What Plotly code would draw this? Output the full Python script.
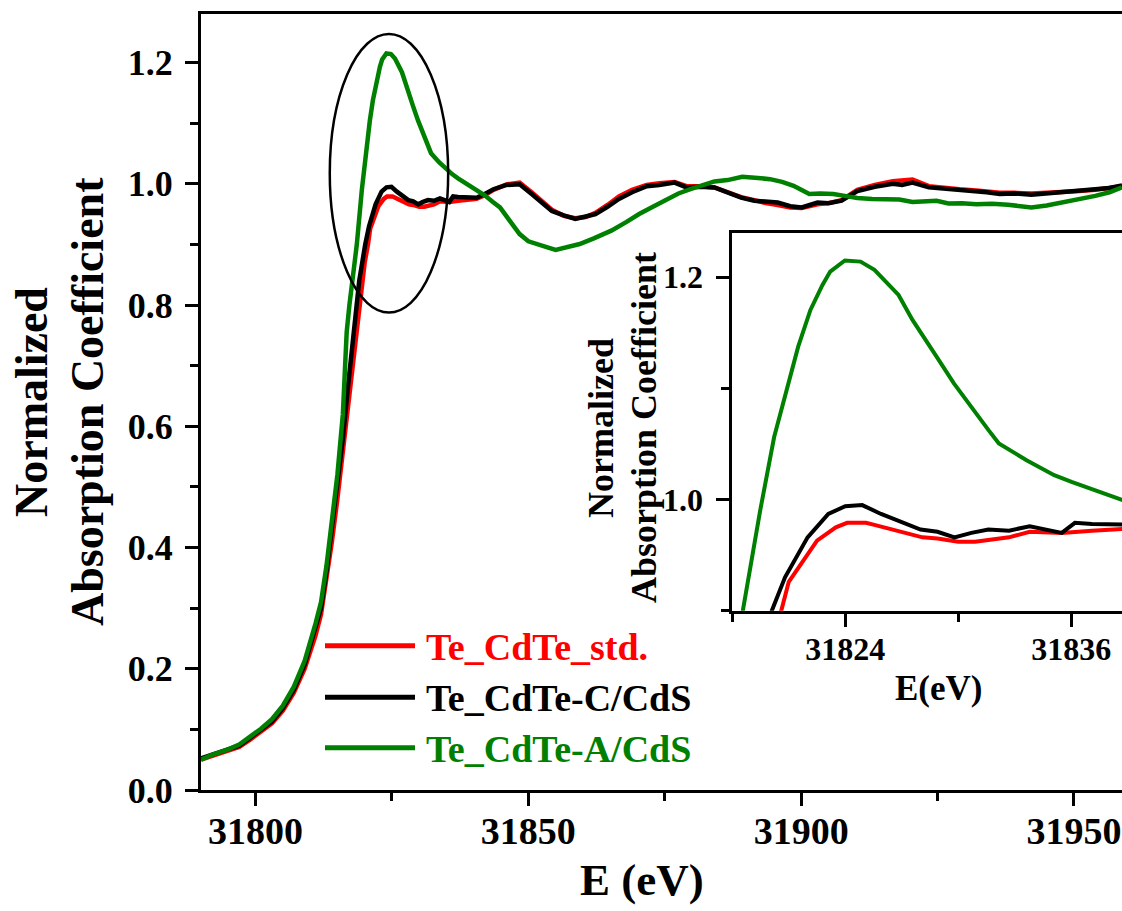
import plotly.graph_objects as go

# ---------------- data ----------------
energy_std = [31790, 31792, 31795, 31797, 31799, 31801, 31803, 31805, 31807, 31809, 31811, 31812,
              31813, 31814, 31815, 31816, 31817, 31818, 31819, 31820.0, 31820.6, 31821.0, 31822.5,
              31823.5, 31824.1, 31825.1, 31825.6, 31826.8, 31828.1, 31828.9, 31830.0, 31830.9,
              31832.0, 31832.7, 31833.8, 31835.5, 31837.1, 31838.7, 31840.5, 31842.0, 31843.6,
              31846.0, 31848.4, 31850.6, 31852.5, 31854.3, 31856.5, 31858.6, 31860.5, 31862.3,
              31864.5, 31866.6, 31869.0, 31871.7, 31874.0, 31876.8, 31879.0, 31881.5, 31884.1,
              31887.0, 31889.0, 31891.4, 31893.5, 31895.7, 31898.0, 31900.1, 31903.0, 31905.0,
              31907.4, 31910.3, 31913.5, 31916.8, 31918.5, 31920.4, 31923.4, 31926.0, 31929.0,
              31932.1, 31934.0, 31936.4, 31939.0, 31942.2, 31945.0, 31948.1, 31951.0, 31953.9,
              31956.5, 31958.8]
mu_std = [0.050, 0.056, 0.064, 0.071, 0.083, 0.096, 0.110, 0.131, 0.160, 0.200, 0.255, 0.290,
          0.345, 0.410, 0.480, 0.560, 0.640, 0.720, 0.795, 0.870, 0.900, 0.926, 0.963,
          0.975, 0.979, 0.979, 0.977, 0.972, 0.966, 0.965, 0.962, 0.962,
          0.964, 0.966, 0.971, 0.970, 0.972, 0.973, 0.975, 0.981, 0.990,
          0.999, 1.002, 0.986, 0.970, 0.957, 0.947, 0.943, 0.945, 0.952,
          0.965, 0.979, 0.990, 0.998, 1.001, 1.003, 0.996, 0.996, 0.994,
          0.985, 0.978, 0.973, 0.968, 0.965, 0.961, 0.960, 0.966, 0.968,
          0.973, 0.990, 0.998, 1.004, 1.005, 1.007, 0.996, 0.993, 0.991,
          0.989, 0.987, 0.985, 0.985, 0.984, 0.985, 0.986, 0.988, 0.990,
          0.993, 0.996]

energy_c = [31790, 31792, 31795, 31797, 31799, 31801, 31803, 31805, 31807, 31809, 31811, 31812,
            31813, 31814, 31815, 31816, 31817, 31818, 31819, 31820.1, 31820.8, 31822.0, 31823.1,
            31824.0, 31824.9, 31825.9, 31827.0, 31828.0, 31828.9, 31829.8, 31830.7, 31831.6,
            31832.7, 31833.8, 31835.5, 31836.2, 31837.1, 31838.7, 31840.5, 31842.0, 31843.6,
            31846.0, 31848.4, 31850.6, 31852.5, 31854.3, 31856.5, 31858.6, 31860.5, 31862.3,
            31864.5, 31866.6, 31869.0, 31871.7, 31874.0, 31876.8, 31879.0, 31881.5, 31884.1,
            31887.0, 31889.0, 31891.4, 31893.5, 31895.7, 31898.0, 31900.1, 31903.0, 31905.0,
            31907.4, 31910.3, 31913.5, 31916.8, 31918.5, 31920.4, 31923.4, 31926.0, 31929.0,
            31932.1, 31934.0, 31936.4, 31939.0, 31942.2, 31945.0, 31948.1, 31951.0, 31953.9,
            31956.5, 31958.8]
mu_c = [0.052, 0.058, 0.066, 0.073, 0.086, 0.099, 0.113, 0.135, 0.165, 0.207, 0.265, 0.300,
        0.360, 0.430, 0.500, 0.580, 0.670, 0.760, 0.840, 0.900, 0.930, 0.966, 0.987,
        0.994, 0.995, 0.987, 0.980, 0.973, 0.971, 0.966, 0.970, 0.973,
        0.972, 0.976, 0.970, 0.979, 0.978, 0.978, 0.977, 0.983, 0.991,
        0.998, 0.999, 0.983, 0.968, 0.955, 0.948, 0.942, 0.946, 0.950,
        0.962, 0.975, 0.986, 0.996, 0.998, 1.002, 0.994, 0.995, 0.994,
        0.983, 0.977, 0.972, 0.970, 0.969, 0.963, 0.961, 0.969, 0.968,
        0.972, 0.988, 0.995, 1.000, 0.998, 1.002, 0.994, 0.992, 0.991,
        0.988, 0.986, 0.983, 0.984, 0.982, 0.984, 0.985, 0.988, 0.991,
        0.993, 0.997]

energy_a = [31790, 31792, 31795, 31797, 31799, 31801, 31803, 31805, 31807, 31809, 31811, 31812,
            31813, 31814, 31815, 31816, 31816.7, 31817.2, 31818.56, 31819.48, 31820.22, 31820.95,
            31821.5, 31822.15, 31822.79, 31823.2, 31823.98, 31824.81, 31825.55, 31826.83,
            31827.57, 31828.85, 31829.77, 31831.61, 31832.16, 31833.63, 31835.1, 31836.02,
            31837.1, 31838.74, 31840.5, 31842.0, 31843.5, 31844.8, 31846.5, 31848.4, 31850.0,
            31852.1, 31853.5, 31855.0, 31857.0, 31859.4, 31862.0, 31865.2, 31868.0, 31870.3,
            31873.0, 31875.4, 31877.5, 31879.7, 31882.0, 31884.1, 31886.5, 31889.2, 31891.5,
            31894.3, 31896.5, 31898.6, 31900.0, 31901.5, 31903.5, 31905.9, 31908.0, 31910.3,
            31913.0, 31916.1, 31918.0, 31920.4, 31922.5, 31924.8, 31927.0, 31929.5, 31932.1,
            31935.0, 31937.9, 31940.0, 31942.2, 31945.0, 31948.1, 31951.0, 31953.9, 31956.5,
            31958.8]
mu_a = [0.050, 0.058, 0.067, 0.075, 0.088, 0.101, 0.117, 0.139, 0.170, 0.213, 0.275, 0.310,
        0.370, 0.440, 0.520, 0.620, 0.755, 0.800, 0.900, 0.990, 1.056, 1.1045,
        1.1375, 1.1705, 1.193, 1.205, 1.215, 1.214, 1.2066, 1.184,
        1.1615, 1.1285, 1.1045, 1.0624, 1.0504, 1.0354, 1.0219, 1.0159,
        1.009, 0.9994, 0.990, 0.981, 0.970, 0.961, 0.940, 0.917, 0.905,
        0.898, 0.895, 0.891, 0.895, 0.9006, 0.910, 0.9226, 0.937, 0.950,
        0.963, 0.9748, 0.984, 0.991, 0.997, 1.0038, 1.006, 1.0115, 1.010,
        1.0076, 1.003, 0.9967, 0.990, 0.983, 0.984, 0.983, 0.980, 0.9764,
        0.975, 0.9736, 0.974, 0.970, 0.971, 0.972, 0.9675, 0.968, 0.966,
        0.967, 0.9654, 0.963, 0.961, 0.964, 0.969, 0.975, 0.980, 0.986,
        0.9939]

series_names = ["Te_CdTe_std.", "Te_CdTe-C/CdS", "Te_CdTe-A/CdS"]
series_colors = ["#FF0000", "#000000", "#008000"]

main_x_title = "E (eV)"
main_y_title = ["Normalized", "Absorption Coefficient"]
inset_x_title = "E(eV)"
inset_y_title = ["Normalized", "Absorption Coefficient"]

# ellipse highlighting the white-line region (data coords)
ellipse_x = [31813.6, 31835.3]
ellipse_y = [0.7875, 1.247]

# ---------------- figure ----------------
W, H = 1122, 911
# desired plot area on screen
SX0, SX1, SY0, SY1 = 201, 1122, 14, 790
ML, MT, MR, MB = SX0, SY0, W - SX1, H - SY1
PW, PH = SX1 - SX0, SY1 - SY0
FONT = "Liberation Serif"


def px(x):
    return (x - SX0) / PW


def py(y):
    return (SY1 - y) / PH


fig = go.Figure()
series = [(energy_std, mu_std), (energy_c, mu_c), (energy_a, mu_a)]
for (ex, mu), name, col in zip(series, series_names, series_colors):
    fig.add_trace(go.Scatter(x=ex, y=mu, mode="lines", name=name, showlegend=False,
                             line=dict(color=col, width=4.5), xaxis="x", yaxis="y"))
for (ex, mu), name, col in zip(series, series_names, series_colors):
    fig.add_trace(go.Scatter(x=ex, y=mu, mode="lines", name=name, showlegend=False,
                             line=dict(color=col, width=4), xaxis="x2", yaxis="y2"))

axis_common = dict(showgrid=False, zeroline=False, showline=True, linecolor="black",
                   linewidth=3, ticks="outside", tickwidth=3, tickcolor="black",
                   ticklen=13)

fig.update_layout(
    width=W, height=H,
    margin=dict(l=ML, r=MR, t=MT, b=MB, pad=0),
    paper_bgcolor="white", plot_bgcolor="white",
    font=dict(family=FONT, color="black"),
    xaxis=dict(**axis_common, domain=[0, 1], range=[31790, 31958.8], mirror=True,
               tick0=31800, dtick=50, tickformat="d", ticklabelstandoff=-8,
               tickfont=dict(family=FONT, size=38, weight="bold"),
               minor=dict(ticks="outside", ticklen=8, tickwidth=3, tickcolor="black",
                          tick0=31775, dtick=25)),
    yaxis=dict(**axis_common, domain=[0, 1], range=[0, 1.28], mirror=False,
               tick0=0, dtick=0.2, tickformat=".1f", ticklabelstandoff=5,
               tickfont=dict(family=FONT, size=36, weight="bold"),
               minor=dict(ticks="outside", ticklen=8, tickwidth=3, tickcolor="black",
                          tick0=0, dtick=0.1)),
    xaxis2=dict(**axis_common, anchor="y2", domain=[px(732.3), 1.0], range=[31818, 31838.7],
                mirror=True, tick0=31824, dtick=12, tickformat="d", ticklabelstandoff=-5,
                tickfont=dict(family=FONT, size=32, weight="bold"),
                minor=dict(ticks="outside", ticklen=8, tickwidth=3, tickcolor="black",
                           tick0=31818, dtick=6)),
    yaxis2=dict(**axis_common, anchor="x2", domain=[py(610.7), py(232.7)], range=[0.9, 1.24],
                mirror=False, tick0=1.0, dtick=0.2, tickformat=".1f", ticklabelstandoff=7,
                tickfont=dict(family=FONT, size=32, weight="bold"),
                minor=dict(ticks="outside", ticklen=8, tickwidth=3, tickcolor="black",
                           tick0=0.9, dtick=0.1)),
)

# ellipse
fig.add_shape(type="circle", xref="x", yref="y", x0=ellipse_x[0], x1=ellipse_x[1],
              y0=ellipse_y[0], y1=ellipse_y[1], line=dict(color="black", width=2.5))

# manual legend
leg_rows = [645.7, 697.3, 747.7]
for name, col, yrow in zip(series_names, series_colors, leg_rows):
    fig.add_shape(type="line", xref="paper", yref="paper", x0=px(325), x1=px(415),
                  y0=py(yrow), y1=py(yrow), line=dict(color=col, width=5))
    fig.add_annotation(xref="paper", yref="paper", x=px(424), y=py(yrow + 1),
                       xanchor="left", yanchor="middle", showarrow=False, text=name,
                       font=dict(family=FONT, size=38, color=col, weight="bold"))

# axis titles (main)
fig.add_annotation(xref="paper", yref="paper", x=px(642), y=py(880), text=main_x_title,
                   showarrow=False, xanchor="center", yanchor="middle",
                   font=dict(family=FONT, size=45, weight="bold"))
for txt, xc in zip(main_y_title, [31, 87]):
    fig.add_annotation(xref="paper", yref="paper", x=px(xc), y=py(402), text=txt,
                       textangle=-90, showarrow=False, xanchor="center", yanchor="middle",
                       font=dict(family=FONT, size=46, weight="bold"))

# axis titles (inset)
fig.add_annotation(xref="paper", yref="paper", x=px(938), y=py(688), text=inset_x_title,
                   showarrow=False, xanchor="center", yanchor="middle",
                   font=dict(family=FONT, size=35, weight="bold"))
for txt, xc in zip(inset_y_title, [601, 644]):
    fig.add_annotation(xref="paper", yref="paper", x=px(xc), y=py(428), text=txt,
                       textangle=-90, showarrow=False, xanchor="center", yanchor="middle",
                       font=dict(family=FONT, size=36, weight="bold"))

fig.write_html(
    "out.html",
    config={"displayModeBar": False},
    post_script="document.documentElement.style.overflow='hidden';"
                "document.body.style.margin='0';document.body.style.overflow='hidden';",
)
